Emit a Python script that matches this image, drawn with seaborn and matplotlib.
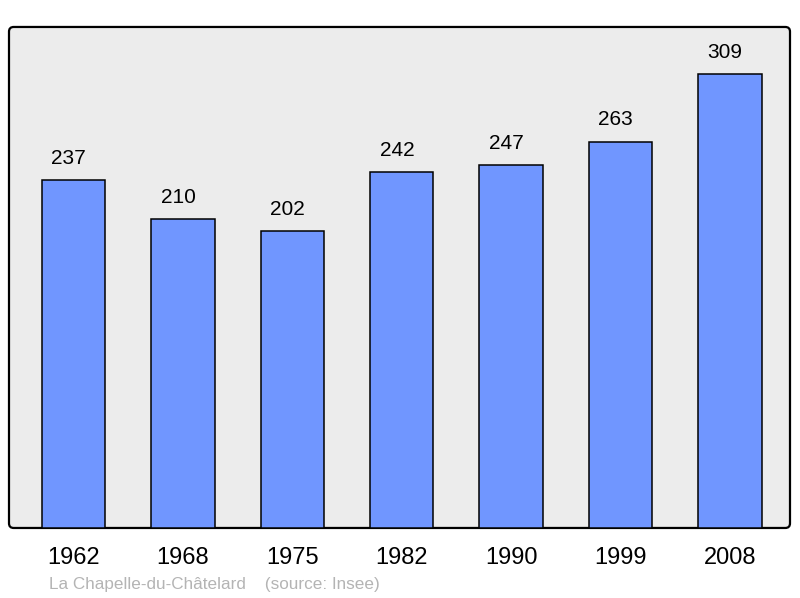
import pandas as pd
import seaborn as sns
import matplotlib.pyplot as plt
from matplotlib.patches import FancyBboxPatch

# données de population
years = ['1962', '1968', '1975', '1982', '1990', '1999', '2008']
population = [237, 210, 202, 242, 247, 263, 309]
commune = 'La Chapelle-du-Châtelard'
source = '(source: Insee)'

df = pd.DataFrame({'annee': years, 'population': population})

sns.set_theme(style='white')
plt.rcParams['font.family'] = ['Liberation Sans', 'DejaVu Sans']

fig = plt.figure(figsize=(8, 5.98), dpi=100)
ax = fig.add_axes([0.01125, 0.1171, 0.97625, 0.8378])

sns.barplot(data=df, x='annee', y='population', color='#7096ff', saturation=1,
            edgecolor='black', linewidth=1.1, width=0.58, ax=ax, zorder=3)

# cadre arrondi gris
ax.patch.set_visible(False)
for s in ax.spines.values():
    s.set_visible(False)
frame = FancyBboxPatch((0, 0), 1, 1, boxstyle='round,pad=0,rounding_size=0.006',
                       mutation_aspect=781 / 501, transform=ax.transAxes,
                       facecolor='#ececec', edgecolor='black', linewidth=1.6,
                       clip_on=False, zorder=0)
ax.add_patch(frame)

# étiquettes de valeur
for bar, val in zip(ax.patches, population):
    ax.annotate(str(val), (bar.get_x() + bar.get_width() / 2, bar.get_height()),
                xytext=(-3.5, 8.8), textcoords='offset points',
                ha='center', va='bottom', fontsize=15, color='black')

ax.set_xlim(-0.59, 6.55)
ax.set_ylim(0, 341)
ax.set_yticks([])
ax.set_xlabel('')
ax.set_ylabel('')
ax.tick_params(axis='x', length=0, pad=14, labelsize=17, colors='black')

fig.text(49 / 800, 1 - 584 / 598, f'{commune}    {source}', fontsize=12.3,
         color='#b4b4b4', ha='left', va='center')

fig.savefig('out.png', dpi=100)
